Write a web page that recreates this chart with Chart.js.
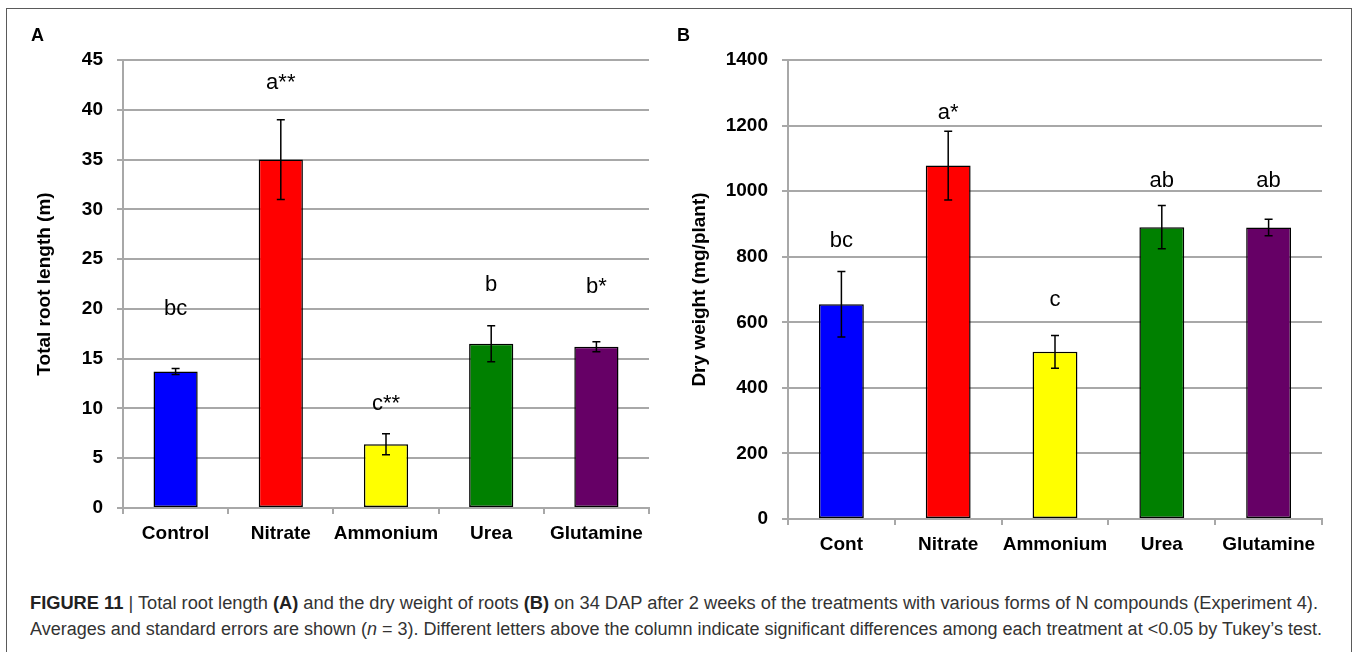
<!DOCTYPE html>
<html>
<head>
<meta charset="utf-8">
<script src="https://cdn.jsdelivr.net/npm/chart.js@4.4.1/dist/chart.umd.min.js"></script>
<style>
  body { margin: 0; background: #fff; width: 1357px; height: 652px; overflow: hidden; position: relative; font-family: "Liberation Sans", Arial, sans-serif; }
  #frame { position: absolute; left: 6px; top: 8px; width: 1344px; height: 700px; border: 1px solid #5a5a5a; }
  .panel { position: absolute; top: 26px; font: bold 18px "Liberation Sans", Arial, sans-serif; line-height: 1; }
  #wrapA { position: absolute; left: 0; top: 0; }
  #wrapB { position: absolute; left: 670px; top: 0; }
  .cap { position: absolute; left: 30px; font-size: 18px; color: #333; white-space: nowrap; transform-origin: 0 50%; }
  .cap b { color: #222; }
</style>
</head>
<body>
<div id="frame"></div>
<div id="wrapA"><canvas id="chartA" width="680" height="560"></canvas></div>
<div id="wrapB"><canvas id="chartB" width="687" height="570"></canvas></div>
<div class="panel" style="left:31px">A</div>
<div class="panel" style="left:677px">B</div>
<div class="cap" id="cap1" style="top:593px"><b>FIGURE 11</b> | Total root length <b>(A)</b> and the dry weight of roots <b>(B)</b> on 34 DAP after 2 weeks of the treatments with various forms of N compounds (Experiment 4).</div>
<div class="cap" id="cap2" style="top:619px">Averages and standard errors are shown (<i>n</i> = 3). Different letters above the column indicate significant differences among each treatment at &lt;0.05 by Tukey’s test.</div>
<script>
// ---- data ----
var treatmentsA = ["Control", "Nitrate", "Ammonium", "Urea", "Glutamine"];
var treatmentsB = ["Cont", "Nitrate", "Ammonium", "Urea", "Glutamine"];
var barColors = ["#0000ff", "#ff0000", "#ffff00", "#008000", "#660066"];

var rootLength = [13.7, 35.0, 6.4, 16.5, 16.2];
var rootLengthSE = [0.3, 4.0, 1.05, 1.8, 0.5];
var rootLetters = ["bc", "a**", "c**", "b", "b*"];
var rootLetterAt = [20.0, 42.7, 10.5, 22.4, 22.2];

var dryWeight = [655, 1078, 510, 890, 889];
var dryWeightSE = [100, 105, 50, 66, 25];
var dryLetters = ["bc", "a*", "c", "ab", "ab"];
var dryLetterAt = [847, 1240, 668, 1030, 1030];

var tickFont = { family: '"Liberation Sans", Arial, sans-serif', size: 19, weight: 'bold' };
var gridGray = "#a8a8a8";

// error bars + significance letters, placed with the y scale
var errorBars = {
  id: "errorBars",
  afterDatasetsDraw(chart, args, opts) {
    var ctx = chart.ctx;
    var y = chart.scales.y;
    var meta = chart.getDatasetMeta(0);
    var vals = chart.data.datasets[0].data;
    ctx.save();
    ctx.strokeStyle = "#000";
    ctx.lineWidth = 1.5;
    meta.data.forEach(function (bar, i) {
      var top = y.getPixelForValue(vals[i] + opts.errors[i]);
      var bot = y.getPixelForValue(vals[i] - opts.errors[i]);
      ctx.beginPath();
      ctx.moveTo(bar.x, top); ctx.lineTo(bar.x, bot);
      ctx.moveTo(bar.x - 4, top); ctx.lineTo(bar.x + 4, top);
      ctx.moveTo(bar.x - 4, bot); ctx.lineTo(bar.x + 4, bot);
      ctx.stroke();
    });
    ctx.fillStyle = "#000";
    ctx.font = '22px "Liberation Sans", Arial, sans-serif';
    ctx.textAlign = "center";
    ctx.textBaseline = "middle";
    opts.letters.forEach(function (t, i) {
      ctx.fillText(t, meta.data[i].x, y.getPixelForValue(opts.letterAt[i]));
    });
    ctx.restore();
  }
};

function makeChart(id, labels, values, errs, letters, letterAt, yMax, yStep, yTitle, yWidth, xHeight, padRight, titlePad) {
  return new Chart(document.getElementById(id), {
    type: "bar",
    plugins: [errorBars],
    data: {
      labels: labels,
      datasets: [{
        data: values,
        backgroundColor: barColors,
        borderColor: "#000",
        borderWidth: 1.5,
        borderSkipped: false,
        categoryPercentage: 1,
        barPercentage: 0.42
      }]
    },
    options: {
      responsive: false,
      animation: false,
      devicePixelRatio: 1,
      layout: { padding: { left: 0, right: padRight, top: 60, bottom: 0 } },
      plugins: {
        legend: { display: false },
        tooltip: { enabled: false },
        errorBars: { errors: errs, letters: letters, letterAt: letterAt }
      },
      scales: {
        x: {
          grid: { offset: true, drawOnChartArea: false, drawTicks: true, tickLength: 6, color: gridGray, lineWidth: 2 },
          border: { color: gridGray, width: 2 },
          ticks: { color: "#000", font: tickFont, padding: 8, maxRotation: 0, minRotation: 0, autoSkip: false },
          afterFit: function (s) { s.height = xHeight; }
        },
        y: {
          min: 0,
          max: yMax,
          ticks: {
            stepSize: yStep, color: "#000", font: tickFont, padding: 14,
            callback: function (v) { return String(v); }
          },
          grid: { color: gridGray, lineWidth: 2, tickLength: 6 },
          border: { color: gridGray, width: 2 },
          title: {
            display: true,
            text: yTitle,
            color: "#000",
            font: { family: '"Liberation Sans", Arial, sans-serif', size: 19, weight: 'bold' },
            padding: { top: titlePad, bottom: 0 }
          },
          afterFit: function (s) { s.width = yWidth; }
        }
      }
    }
  });
}

makeChart("chartA", treatmentsA, rootLength, rootLengthSE, rootLetters, rootLetterAt,
  45, 5, "Total root length (m)", 123, 52, 31, 33);
makeChart("chartB", treatmentsB, dryWeight, dryWeightSE, dryLetters, dryLetterAt,
  1400, 200, "Dry weight (mg/plant)", 118, 51, 35, 18);

// squeeze caption lines to the width they take in the figure
[["cap1", 1288], ["cap2", 1292]].forEach(function (c) {
  var el = document.getElementById(c[0]);
  var w = el.getBoundingClientRect().width;
  el.style.transform = "scaleX(" + (c[1] / w) + ")";
});
</script>
</body>
</html>
